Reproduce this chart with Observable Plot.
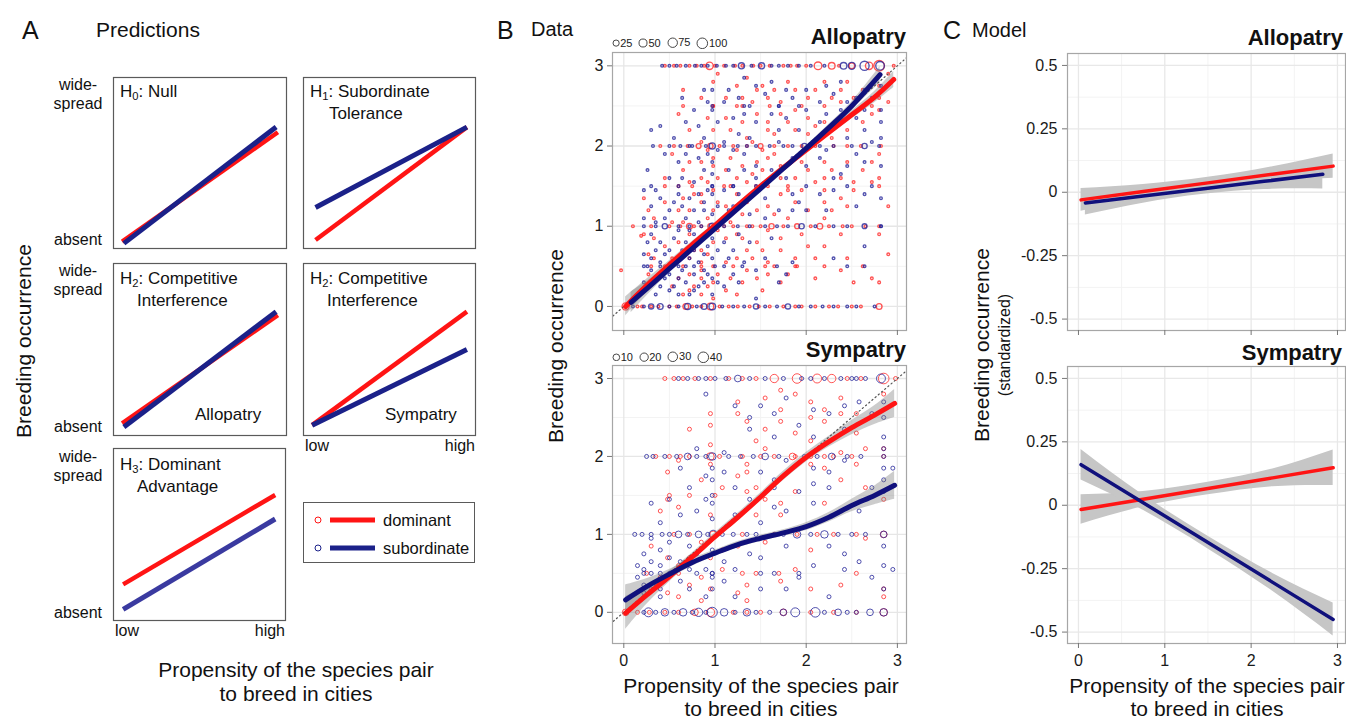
<!DOCTYPE html>
<html><head><meta charset="utf-8">
<script src="https://cdn.jsdelivr.net/npm/d3@7"></script>
<script src="https://cdn.jsdelivr.net/npm/@observablehq/plot@0.6"></script>
<style>
html,body{margin:0;padding:0;background:#fff;}
#fig{position:relative;width:1346px;height:721px;overflow:hidden;font-family:"Liberation Sans",Arial,Helvetica,sans-serif;color:#111;}
.abs{position:absolute;white-space:nowrap;line-height:1;}
sub{font-size:0.66em;line-height:0;vertical-align:-0.28em;}
</style></head><body><div id="fig"></div>
<script>
// ---------------- DATA ----------------
// Panel A: schematic predictions, [x, y] as fraction of the box (0..1)
const h0Dom = [[0.05,0.04],[0.95,0.68]], h0Sub = [[0.06,0.03],[0.94,0.71]];
const h1Dom = [[0.07,0.05],[0.95,0.71]], h1Sub = [[0.07,0.24],[0.95,0.71]];
const h2aDom = [[0.05,0.07],[0.95,0.70]], h2aSub = [[0.06,0.05],[0.94,0.72]];
const h2sDom = [[0.05,0.06],[0.95,0.72]], h2sSub = [[0.05,0.06],[0.95,0.50]];
const h3Dom = [[0.056,0.21],[0.94,0.73]], h3Sub = [[0.056,0.065],[0.94,0.59]];

// Panel B: observed points. rows: [y, [x...]], cols: [x, [y...]], big: [x, y, n]
const alloDomRows = [
 [0,[0.15,0.2,0.3,0.38,0.5,0.58,0.75,0.85,1.05,1.15,1.25,1.38,1.48,1.6,1.75,1.88,1.95,2.1,2.25,2.35,2.5,2.6]],
 [0.5,[0.3,0.5,0.85,1.2,1.55,1.9]],
 [1,[0.1,0.3,0.5,0.62,0.85,1.1,1.2,1.35,1.5,1.75,2.05,2.25,2.4,2.5,2.65,2.8]],
 [1.5,[0.45,0.75,1.1,1.45,1.8]],
 [2,[0.4,0.55,0.7,1.05,1.2,1.35,1.65,1.8,1.95,2.1,2.3,2.45,2.6,2.82]],
 [2.5,[0.65,0.98,1.3,1.6]],
 [3,[0.45,0.55,0.62,0.72,0.8,0.88,1.0,1.1,1.22,1.3,1.42,1.5,1.6,1.75,1.83,1.9,2.0,2.36,2.96]]
];
const alloDomCols = [
 [-0.03,[0.45]],[0.19,[0.88]],
 [0.22,[1.35,0.9]],[0.27,[1.2,0.65,0.4]],[0.33,[1.1,0.85,0.6,0.3]],[0.45,[1.6,1.3,0.75,0.5]],
 [0.53,[1.9,1.05,0.6,0.25]],[0.6,[2.4,1.5,1.2,0.8,0.35]],[0.65,[2.7,1.7,1.35,1.05,0.5,0.15]],
 [0.72,[2.2,1.8,1.55,1.2,0.9,0.6,0.4,0.2]],
 [0.77,[1.4,1.0,0.7,0.25]],[0.85,[2.6,2.05,1.8,1.6,1.4,1.3,0.7,0.55,0.45,0.35,0.15]],
 [0.92,[2.35,1.95,1.55,1.1,0.65,0.25]],
 [0.98,[2.8,2.5,2.2,1.85,1.75,1.45,1.2,0.8,0.5,0.3,0.1]],[1.03,[2.9,1.6,1.3,0.95,0.4]],
 [1.12,[2.6,2.35,1.7,1.25,0.85,0.55,0.2]],[1.17,[2.2,1.85,1.5,1.05,0.35]],
 [1.24,[2.75,2.5,1.95,1.6,1.4,0.9,0.6,0.15]],[1.3,[2.6,2.3,1.75,1.15,0.85,0.3]],
 [1.35,[2.85,2.1,1.55,1.3,0.7,0.45]],[1.41,[2.55,2.05,1.65,1.0,0.6]],
 [1.46,[2.7,2.4,1.8,1.2,0.8,0.35]],[1.52,[2.75,1.95,1.7,0.7,0.2]],
 [1.58,[2.6,2.3,2.2,1.85,1.5,1.25,0.95,0.55,0.4]],[1.65,[2.7,2.15,1.9,1.15,0.5]],
 [1.72,[2.55,2.4,1.75,1.6,1.4,0.85,0.7,0.3]],[1.8,[2.8,2.3,1.45,1.1,0.4]],
 [1.88,[2.7,2.45,2.2,1.6,1.3,0.6,0.5]],[1.95,[2.5,1.8,1.45,0.9]],
 [2.02,[2.6,2.35,2.15,1.7,1.2,0.75]],[2.1,[2.7,2.25,1.55,0.6,0.35]],
 [2.2,[2.8,2.5,2.3,1.8,1.6,1.45,1.3,1.1,0.75,0.5]],[2.28,[2.6,2.1,1.7,1.2]],
 [2.38,[2.7,2.55,2.35,1.6,1.35,0.9,0.45]],[2.45,[2.8,2.2,1.8,1.25,0.6]],[2.52,[2.6,1.55,1.45,0.3]],
 [2.62,[2.7,2.3,1.7,0.5]],[2.72,[2.5,2.4,1.8,1.55,0.35]],[2.8,[2.75,2.6,2.45,1.9,1.6,1.5,0.9,0.3]],
 [2.9,[2.9,2.55,1.25,0.65]]
];
const alloDomBig = [[0.02,0,35],[0.68,0,20],[0.95,0,30],[2.8,0,20],[0.72,1,20],[0.95,1,15],[1.62,1,15],[1.9,1,12],[2.15,1,20],[0.82,2,12],[0.95,2,15],[1.5,2,12],[0.94,3,40],[2.13,3,45],[2.28,3,30],[2.5,3,20],[2.69,3,40],[2.8,3,100]];

const alloSubRows = [
 [0,[0.1,0.22,0.5,0.6,0.8,1.08,1.2,1.32,1.55,1.68,1.92,2.05,2.18,2.3,2.45,2.55,2.75]],
 [0.5,[0.22,0.4,0.6,0.77,1.0,1.3,1.68]],
 [1,[0.22,0.35,0.6,0.72,0.85,1.1,1.25,1.38,1.55,1.68,1.8,2.1,2.3,2.45,2.82]],
 [1.5,[0.3,0.6,0.97,1.2,1.45]],
 [2,[0.32,0.5,0.62,0.75,0.9,1.1,1.25,1.35,1.45,1.6,1.75,1.85,2.15,2.3,2.5,2.8]],
 [2.5,[0.97,1.32,1.7]],
 [3,[0.42,0.5,0.58,0.68,0.78,0.85,0.92,1.02,1.12,1.2,1.4,1.62,1.7,1.8,1.92,2.05,2.2]]
];
const alloSubCols = [
 [0.22,[1.45,1.1,0.65,0.3]],[0.26,[1.7,0.8,0.5]],[0.3,[2.2,1.25,0.9,0.6,0.45]],[0.35,[1.45,1.05,0.7,0.15]],
 [0.4,[2.25,1.35,0.8,0.55,0.25]],[0.45,[1.9,1.1,0.65,0.35]],
 [0.5,[1.6,1.2,0.7,0.4,0.2]],[0.55,[2.1,1.3,0.85,0.55,0.25]],[0.6,[1.8,1.4,0.95,0.6,0.35,0.15]],
 [0.64,[2.6,1.6,1.25,0.7,0.45]],[0.68,[2.3,1.9,1.1,0.8,0.5,0.3]],[0.72,[2.0,1.35,0.95,0.6,0.15]],
 [0.77,[2.45,1.55,1.2,0.9,0.7,0.4,0.2]],[0.82,[2.25,1.85,1.4,1.05,0.55,0.25]],
 [0.88,[2.7,2.1,1.7,1.3,1.2,0.65,0.45,0.3]],[0.92,[2.55,1.9,1.45,0.9,0.75,0.4]],
 [0.97,[2.7,2.45,1.8,1.65,1.5,1.4,1.15,0.85,0.6,0.35,0.15]],[1.03,[2.3,1.95,1.25,0.7,0.3]],
 [1.1,[2.55,2.05,1.45,0.8,0.5,0.25]],[1.15,[2.7,1.7,1.2,0.6]],
 [1.2,[2.35,1.95,1.5,1.25,0.7,0.4]],[1.26,[2.6,2.15,1.4,0.9,0.3]],[1.32,[2.85,2.4,1.9,1.7,1.3,0.55]],
 [1.38,[2.5,2.1,1.15,0.8]],[1.45,[2.75,2.3,1.75,1.6,1.45,0.45,0.1]],[1.55,[2.65,1.35,1.1,0.6]],
 [1.62,[2.8,2.4,1.7,0.85]],[1.7,[2.5,2.2,2.05,1.2,0.3]],[1.78,[2.7,2.35,1.6,0.4]],
 [1.85,[2.6,1.85,1.4,1.2,0.55]],[1.92,[2.5,2.2,1.3]],[2.0,[2.7,2.45,1.75,1.5,1.2]],
 [2.15,[2.55,2.3,1.85,1.4]],[2.22,[2.75,2.4,1.95,1.2]],[2.3,[2.65,2.25,1.6,1.45,0.6]],
 [2.38,[2.8,2.45,1.65]],[2.45,[2.55,2.1,1.75,1.5,0.5]],[2.55,[2.6,2.35,1.9,1.25]],
 [2.64,[2.7,2.45,2.2,1.8,1.4,0.75,0.5]],[2.72,[2.6,2.05,1.5]],[2.82,[2.75,2.45,2.3,2.1,1.75,1.35,1.0]]
];
const alloSubBig = [[0.3,0,15],[0.4,0,20],[0.7,0,25],[0.88,0,20],[0.97,0,30],[1.45,0,15],[1.8,0,15],[0.45,1,15],[0.97,1,25],[1.95,1,15],[2.64,1,12],[0.97,2,25],[1.98,2,15],[2.64,2,15],[1.29,3,25],[1.51,3,25],[2.41,3,30],[2.5,3,35],[2.64,3,70],[2.81,3,60]];

const symDomRows = [
 [0,[0.15,0.28,0.45,0.6,1.2,1.35,1.5,2.05,2.3,2.55]],
 [0.5,[0.25,0.6,1.3,1.7]],
 [1,[0.55,0.72,1.3,1.65,1.9,2.12,2.3,2.55]],
 [1.5,[0.5,1.0]],
 [2,[0.35,0.5,0.62,0.72,1.05,1.3,1.5,1.65,2.05,2.3,2.5,2.85]],
 [3,[0.45,0.55,0.65,0.78,0.95,1.15,1.3,1.45,2.45,2.6,2.98]]
];
const symDomCols = [
 [0.3,[0.85,0.3]],[0.4,[1.3,0.45]],[0.48,[1.8,1.45,0.7,0.25]],[0.6,[1.95,1.35,0.6,0.2]],
 [0.72,[2.35,1.5,0.7,0.35]],[0.85,[1.7,0.9,0.45,0.15]],[0.95,[2.55,2.4,2.15,1.9,1.25,0.7,0.3]],
 [1.08,[1.6,0.8,0.55]],[1.25,[2.7,2.55,1.75,0.85,0.25]],[1.35,[2.45,1.9,1.8,1.55,0.35,0.15]],
 [1.45,[2.2,1.6,1.25,0.5]],[1.55,[2.75,2.35,2.1,1.45,0.9]],[1.72,[2.85,2.6,2.45,1.4,1.25,0.4]],
 [1.88,[2.8,2.3,2.0,1.55,0.55]],[2.05,[2.7,2.5,2.2,1.9,0.8,0.3]],[2.2,[2.6,2.45,2.0,1.85,1.4]],
 [2.38,[2.75,2.55,2.05,1.7,0.35]],[2.55,[2.55,2.3,1.9,0.5]],[2.65,[2.1,1.6,0.95]],
 [2.85,[2.8,2.1,1.45,0.3,0.2]]
];
const symDomBig = [[0.02,0,10],[0.78,0,10],[0.95,0,20],[1.75,0,10],[2.85,0,15],[0.98,1,10],[2.85,1,10],[0.95,2,15],[1.85,2,10],[1.65,3,20],[1.9,3,30],[2.12,3,25],[2.28,3,20],[2.85,3,40]];

const symSubRows = [
 [0,[0.22,0.35,0.55,0.75,0.9,1.22,1.45,1.6,2.2,2.45,2.55]],
 [0.5,[0.22,0.4,0.5,0.97,1.5]],
 [1,[0.12,0.2,0.3,0.42,0.5,0.7,0.92,1.08,1.2,1.35,1.45,1.65,1.75,2.05,2.35,2.5,2.65]],
 [2,[0.25,0.32,0.45,0.58,0.8,0.9,1.15,1.28,1.42,1.7,1.98,2.12,2.45,2.6,2.85]],
 [3,[0.6,0.7,0.82,0.9,1.0,1.12,1.38,1.55,1.75,1.95,2.05,2.2,2.38,2.5,2.55,2.65]]
];
const symSubCols = [
 [0.15,[0.6,0.45]],[0.22,[0.75,0.55,0.35,0.25]],[0.3,[1.4,0.95,0.65,0.5]],[0.4,[1.15,0.8,0.6,0.3,0.2]],
 [0.5,[1.45,0.9,0.7]],[0.62,[1.85,1.25,0.65,0.4]],[0.72,[1.6,0.85,0.55,0.3]],[0.8,[2.1,1.3,0.75,0.5]],
 [0.9,[2.8,1.75,1.45,0.55,0.2]],[0.97,[1.85,1.7,1.5,1.4,1.2,0.8,0.5,0.45,0.3]],
 [1.1,[2.05,1.8,0.65,0.4]],[1.22,[2.65,1.6,1.25,0.55,0.2]],[1.38,[2.5,2.35,1.45,0.75]],
 [1.5,[2.65,1.8,1.15,0.7,0.3]],[1.65,[2.55,2.25,1.7,1.6,1.35,0.5]],[1.78,[2.75,1.95,1.3,0.85,0.3]],
 [1.92,[2.4,1.55,0.5,0.45]],[2.08,[2.6,2.25,1.85,1.65,1.4,0.6]],[2.25,[2.55,1.8,1.6,0.85,0.2]],
 [2.42,[2.65,2.35,1.95,0.75,0.55]],[2.58,[2.7,1.3,0.65]],[2.72,[2.55,1.6,0.45]],
 [2.85,[2.7,2.5,2.25,2.1,1.85,1.7,1.55,0.85,0.6,0.3]],[2.95,[1.85,0.55]]
];
const symSubBig = [[0.27,0,25],[0.45,0,15],[0.65,0,15],[0.82,0,20],[0.97,0,35],[1.1,0,15],[1.35,0,15],[1.75,0,10],[1.88,0,25],[2.1,0,30],[2.35,0,10],[2.7,0,10],[2.85,0,15],[0.6,1,10],[0.82,1,10],[0.98,1,20],[1.9,1,15],[2.2,1,15],[2.85,1,10],[0.7,2,10],[0.97,2,15],[1.55,2,10],[2.28,2,10],[1.25,3,10],[2.82,3,25]];

// Panel B smoothers: [x, fit, lower, upper]
const bAlloDom = [[0.02,0,-0.12,0.12],[0.25,0.26,0.18,0.34],[0.5,0.52,0.47,0.57],[0.75,0.77,0.73,0.81],[1,1.01,0.98,1.04],[1.25,1.26,1.23,1.29],[1.5,1.5,1.47,1.53],[1.75,1.73,1.7,1.76],[2,1.95,1.92,1.98],[2.25,2.17,2.13,2.21],[2.5,2.39,2.34,2.44],[2.75,2.61,2.54,2.68],[2.96,2.83,2.73,2.93]];
const bAlloSub = [[0.08,0.05,-0.08,0.18],[0.25,0.22,0.13,0.31],[0.5,0.47,0.42,0.52],[0.75,0.72,0.68,0.76],[1,0.97,0.94,1.0],[1.25,1.22,1.19,1.25],[1.5,1.47,1.44,1.5],[1.75,1.72,1.69,1.75],[2,1.97,1.94,2.0],[2.25,2.23,2.19,2.27],[2.5,2.5,2.45,2.55],[2.81,2.89,2.79,2.99]];
const bSymDom = [[0.02,-0.01,-0.22,0.2],[0.25,0.22,0.1,0.34],[0.5,0.46,0.39,0.53],[0.75,0.71,0.66,0.76],[1,0.97,0.92,1.02],[1.25,1.22,1.17,1.27],[1.5,1.48,1.43,1.53],[1.75,1.75,1.69,1.81],[2,1.99,1.93,2.05],[2.25,2.19,2.12,2.26],[2.5,2.37,2.28,2.46],[2.75,2.53,2.41,2.65],[2.97,2.68,2.5,2.86]];
const bSymSub = [[0.02,0.16,-0.03,0.35],[0.25,0.33,0.23,0.43],[0.5,0.49,0.43,0.55],[0.75,0.64,0.59,0.69],[1,0.76,0.72,0.8],[1.25,0.87,0.83,0.91],[1.5,0.95,0.91,0.99],[1.75,1.02,0.98,1.06],[2,1.1,1.05,1.15],[2.25,1.22,1.16,1.28],[2.5,1.37,1.29,1.45],[2.75,1.5,1.38,1.62],[2.97,1.63,1.45,1.81]];
const identityLine = [-0.5, 3.3];

// Panel C model fits: [x, fit, lower, upper]
const cAlloDom = [[0.03,-0.03,-0.075,0.015],[0.75,0.003,-0.025,0.031],[1.5,0.037,0.015,0.059],[2.25,0.071,0.041,0.101],[2.95,0.103,0.055,0.151]];
const cAlloSub = [[0.08,-0.042,-0.09,0.006],[0.75,-0.015,-0.043,0.013],[1.45,0.014,-0.008,0.036],[2.15,0.043,0.011,0.075],[2.83,0.071,0.013,0.129]];
const cSymDom = [[0.03,-0.017,-0.075,0.041],[0.75,0.024,-0.006,0.054],[1.5,0.066,0.041,0.091],[2.25,0.108,0.073,0.143],[2.95,0.148,0.078,0.218]];
const cSymSub = [[0.03,0.16,0.1,0.22],[0.75,0.01,-0.02,0.04],[1.5,-0.147,-0.172,-0.122],[2.25,-0.304,-0.339,-0.269],[2.95,-0.45,-0.515,-0.385]];

// Ticks and legend values
const bTicks = [0,1,2,3], bMinor = [0.5,1.5,2.5];
const cYTicks = [-0.5,-0.25,0,0.25,0.5], cYMinor = [-0.375,-0.125,0.125,0.375];
const alloSizeLegend = [25,50,75,100];
const symSizeLegend = [10,20,30,40];

// ---------------- STYLE ----------------
const FONT = '"Liberation Sans", Arial, Helvetica, sans-serif';
const RED = "#ff1414", REDPT = "#ff2a2a", NAVY = "#10107c", NAVYA = "#1b2189", NAVYPT = "#25259a";
const rAllo = {type:"sqrt", domain:[1,100], range:[1.35,5.3]};
const rSym = {type:"sqrt", domain:[1,40], range:[2,5.3]};
const fig = document.getElementById("fig");

function place(el, left, top){ el.style.position="absolute"; el.style.left=left+"px"; el.style.top=top+"px"; fig.appendChild(el); return el; }
function label(html, x, baseline, size, o={}){
  const d = document.createElement("div"); d.className="abs"; d.innerHTML=html;
  d.style.fontSize=size+"px"; d.style.fontWeight=o.weight||"normal";
  if (o.color) d.style.color=o.color;
  d.style.left=x+"px"; d.style.top=(baseline-0.846*size)+"px";
  if (o.align==="center") d.style.transform="translateX(-50%)";
  if (o.align==="right") d.style.transform="translateX(-100%)";
  fig.appendChild(d); return d;
}
function vlabel(html, cx, cy, size){
  const d = document.createElement("div"); d.className="abs"; d.innerHTML=html;
  d.style.fontSize=size+"px"; d.style.left=cx+"px"; d.style.top=cy+"px";
  d.style.transform="translate(-50%,-50%) rotate(-90deg)";
  fig.appendChild(d); return d;
}
function pts(rows, cols, big){
  const out=[];
  for (const [y,xs] of rows) for (const x of xs) out.push({x,y,n:1});
  for (const [x,ys] of cols) for (const y of ys) out.push({x,y,n:1});
  for (const [x,y,n] of big) out.push({x,y,n});
  return out;
}
const plotStyle = {fontFamily: FONT, background:"transparent", overflow:"visible", color:"#1a1a1a"};

// ---------------- PANEL A ----------------
function predBox(dom, sub, left, top, w, h, subColor){
  const p = Plot.plot({
    width:w+2, height:h+2, margin:1, style:plotStyle,
    x:{domain:[0,1], axis:null}, y:{domain:[0,1], axis:null},
    marks:[
      Plot.frame({stroke:"#5a5a5a", strokeWidth:1.2}),
      Plot.line(dom, {x:d=>d[0], y:d=>d[1], stroke:RED, strokeWidth:4.5, strokeLinecap:"butt"}),
      Plot.line(sub, {x:d=>d[0], y:d=>d[1], stroke:subColor||NAVYA, strokeWidth:5, strokeLinecap:"butt"})
    ]
  });
  place(p, left-1, top-1);
}
predBox(h0Dom, h0Sub, 113, 77, 173, 171);
predBox(h1Dom, h1Sub, 303, 77, 172, 171);
predBox(h2aDom, h2aSub, 113, 263, 173, 172);
predBox(h2sDom, h2sSub, 303, 263, 172, 172);
predBox(h3Dom, h3Sub, 113, 448, 172, 172, "#3a3aa0");

label("A", 22, 39, 25);
label("Predictions", 96, 37, 21);
label("H<sub>0</sub>: Null", 120, 97, 17);
label("H<sub>1</sub>: Subordinate", 310, 97, 17);
label("Tolerance", 329, 119, 17);
label("H<sub>2</sub>: Competitive", 120, 284, 17);
label("Interference", 137, 306, 17);
label("H<sub>2</sub>: Competitive", 310, 284, 17);
label("Interference", 327, 306, 17);
label("Allopatry", 195, 420, 17);
label("Sympatry", 385, 420, 17);
label("H<sub>3</sub>: Dominant", 120, 470, 17);
label("Advantage", 137, 492, 17);
for (const [b1,b2,b3] of [[91,110,246],[277,296,433],[463,482,619]]){
  label("wide-", 78, b1, 16, {align:"center"});
  label("spread", 78, b2, 16, {align:"center"});
  label("absent", 78, b3, 16, {align:"center"});
}
label("low", 305, 452, 16); label("high", 475, 452, 16, {align:"right"});
label("low", 115, 637, 16); label("high", 285, 637, 16, {align:"right"});
vlabel("Breeding occurrence", 23, 341, 21);
label("Propensity of the species pair", 296, 677, 21, {align:"center"});
label("to breed in cities", 296, 701, 21, {align:"center"});

// legend box
{
  const box = document.createElement("div");
  box.style.cssText = "position:absolute;left:303px;top:502px;width:172px;height:61px;border:1.2px solid #5a5a5a;box-sizing:border-box;";
  fig.appendChild(box);
  const items = [["dominant", RED, 520], ["subordinate", NAVYA, 548]];
  for (const [name, col, cy] of items){
    const s = document.createElementNS("http://www.w3.org/2000/svg","svg");
    s.setAttribute("width","70"); s.setAttribute("height","16");
    s.innerHTML = `<circle cx="8" cy="8" r="3" fill="none" stroke="${col}" stroke-width="1"/><line x1="20" x2="65" y1="8" y2="8" stroke="${col}" stroke-width="5"/>`;
    place(s, 310, cy-8);
    label(name, 383, cy+6, 16.5);
  }
}

// ---------------- PANEL B ----------------
function bPanel(domPts, subPts, domFit, subFit, rOpt, yDomain, height, showXLabels, sw){
  const innerH = 278;
  return Plot.plot({
    width:340, height, marginLeft:42, marginRight:4, marginTop:2, marginBottom:height-2-innerH,
    style:plotStyle,
    x:{domain:[-0.124,3.1], label:null}, y:{domain:yDomain, label:null}, r:rOpt,
    marks:[
      Plot.gridX(bMinor, {stroke:"#f3f3f3", strokeOpacity:1, strokeWidth:1}),
      Plot.gridY(bMinor, {stroke:"#f3f3f3", strokeOpacity:1, strokeWidth:1}),
      Plot.gridX(bTicks, {stroke:"#e6e6e6", strokeOpacity:1, strokeWidth:1.3}),
      Plot.gridY(bTicks, {stroke:"#e6e6e6", strokeOpacity:1, strokeWidth:1.3}),
      Plot.dot(domPts, {x:"x", y:"y", r:"n", stroke:REDPT, strokeOpacity:0.8, strokeWidth:sw, fill:"none"}),
      Plot.dot(subPts, {x:"x", y:"y", r:"n", stroke:NAVYPT, strokeOpacity:0.8, strokeWidth:sw, fill:"none"}),
      Plot.areaY(domFit, {x:d=>d[0], y1:d=>d[2], y2:d=>d[3], fill:"#808080", fillOpacity:0.4, curve:"catmull-rom"}),
      Plot.areaY(subFit, {x:d=>d[0], y1:d=>d[2], y2:d=>d[3], fill:"#808080", fillOpacity:0.4, curve:"catmull-rom"}),
      Plot.line(identityLine, {x:d=>d, y:d=>d, stroke:"#555", strokeWidth:1.2, strokeDasharray:"1.2,3", clip:true}),
      Plot.line(domFit, {x:d=>d[0], y:d=>d[1], stroke:RED, strokeWidth:5, curve:"catmull-rom"}),
      Plot.line(subFit, {x:d=>d[0], y:d=>d[1], stroke:NAVY, strokeWidth:5, curve:"catmull-rom"}),
      Plot.frame({stroke:"#a6a6a6", strokeWidth:1.2}),
      Plot.axisY({ticks:bTicks, tickSize:5, tickPadding:4, fontSize:16, stroke:"#777", label:null, tickFormat:d=>String(d)}),
      Plot.axisX({ticks:bTicks, tickSize:5, tickPadding:6, fontSize:16, stroke:"#777", label:null,
        tickFormat: showXLabels ? (d=>String(d)) : (()=>"")})
    ]
  });
}
place(bPanel(pts(alloDomRows,alloDomCols,alloDomBig), pts(alloSubRows,alloSubCols,alloSubBig), bAlloDom, bAlloSub, rAllo, [-0.3,3.166], 290, false, 1.35), 570, 50);
place(bPanel(pts(symDomRows,symDomCols,symDomBig), pts(symSubRows,symSubCols,symSubBig), bSymDom, bSymSub, rSym, [-0.4,3.167], 308, true, 1.0), 570, 363);

function sizeLegend(values, rOpt, left, cy){
  const sc = d3.scaleSqrt().domain(rOpt.domain).range(rOpt.range);
  const wrap = document.createElement("div");
  wrap.style.cssText = `position:absolute;left:${left}px;top:${cy-7}px;height:14px;display:flex;align-items:center;gap:6px;font-size:11px;line-height:1;color:#222;`;
  for (const v of values){
    const r = sc(v);
    const it = document.createElement("span");
    it.style.cssText = "display:flex;align-items:center;";
    it.innerHTML = `<svg width="${2*r+2}" height="${2*r+2}" style="display:block"><circle cx="${r+1}" cy="${r+1}" r="${r}" fill="none" stroke="#333" stroke-width="0.9"/></svg><span>${v}</span>`;
    wrap.appendChild(it);
  }
  fig.appendChild(wrap);
}
sizeLegend(alloSizeLegend, rAllo, 612, 43);
sizeLegend(symSizeLegend, rSym, 612, 357);

label("B", 497, 39, 25);
label("Data", 531, 36, 20);
label("Allopatry", 906, 45, 22, {align:"right", weight:"bold"});
label("Sympatry", 906, 358, 22, {align:"right", weight:"bold"});
vlabel("Breeding occurrence", 555, 346, 21);
label("Propensity of the species pair", 761, 693, 21, {align:"center"});
label("to breed in cities", 761, 716, 21, {align:"center"});

// ---------------- PANEL C ----------------
function cPanel(domFit, subFit, height, showXLabels){
  const innerH = 277;
  return Plot.plot({
    width:336, height, marginLeft:57, marginRight:1, marginTop:2, marginBottom:height-2-innerH,
    style:plotStyle,
    x:{domain:[-0.127,3.093], label:null}, y:{domain:[-0.545,0.547], label:null},
    marks:[
      Plot.gridX(bMinor, {stroke:"#f3f3f3", strokeOpacity:1, strokeWidth:1}),
      Plot.gridY(cYMinor, {stroke:"#f3f3f3", strokeOpacity:1, strokeWidth:1}),
      Plot.gridX(bTicks, {stroke:"#e8e8e8", strokeOpacity:1, strokeWidth:1.3}),
      Plot.gridY(cYTicks, {stroke:"#e8e8e8", strokeOpacity:1, strokeWidth:1.3}),
      Plot.areaY(domFit, {x:d=>d[0], y1:d=>d[2], y2:d=>d[3], fill:"#c6c6c6", curve:"natural"}),
      Plot.areaY(subFit, {x:d=>d[0], y1:d=>d[2], y2:d=>d[3], fill:"#c6c6c6", curve:"natural"}),
      Plot.line(domFit, {x:d=>d[0], y:d=>d[1], stroke:RED, strokeWidth:3.5}),
      Plot.line(subFit, {x:d=>d[0], y:d=>d[1], stroke:NAVY, strokeWidth:3.5}),
      Plot.frame({stroke:"#a6a6a6", strokeWidth:1.2}),
      Plot.axisY({ticks:cYTicks, tickSize:5, tickPadding:5, fontSize:16, stroke:"#777", label:null, tickFormat:d=>String(d)}),
      Plot.axisX({ticks:bTicks, tickSize:5, tickPadding:6, fontSize:16, stroke:"#777", label:null,
        tickFormat: showXLabels ? (d=>String(d)) : (()=>"")})
    ]
  });
}
place(cPanel(cAlloDom, cAlloSub, 289, false), 1010, 51);
place(cPanel(cSymDom, cSymSub, 307, true), 1010, 364);

label("C", 943, 39, 25);
label("Model", 972, 37, 20);
label("Allopatry", 1343, 46, 22, {align:"right", weight:"bold"});
label("Sympatry", 1342, 361, 22, {align:"right", weight:"bold"});
vlabel("Breeding occurrence", 981, 345, 21);
vlabel("(standardized)", 1005, 345, 16);
label("Propensity of the species pair", 1207, 693, 21, {align:"center"});
label("to breed in cities", 1207, 716, 21, {align:"center"});
</script></body></html>
